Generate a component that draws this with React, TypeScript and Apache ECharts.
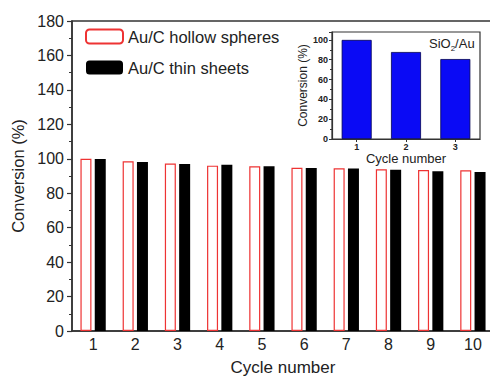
import React, { useEffect, useRef } from "react";
import * as echarts from "echarts";

const cycles = ["1", "2", "3", "4", "5", "6", "7", "8", "9", "10"];
const hollowSpheres = [100, 98.5, 97.2, 96.0, 95.6, 94.8, 94.5, 93.9, 93.5, 93.3];
const thinSheets = [99.8, 98.1, 97.0, 96.6, 95.6, 94.7, 94.4, 93.7, 92.7, 92.3];
const insetCycles = ["1", "2", "3"];
const insetSiO2Au = [100, 87.8, 80.7];
const seriesNames = ["Au/C hollow spheres", "Au/C thin sheets"];

const FONT = "'Liberation Sans', Arial, sans-serif";
const AXIS = "#333";
const TEXT = "#222";

export default function App() {
  const ref = useRef<HTMLDivElement>(null);
  useEffect(() => {
    if (!ref.current) return;
    const chart = echarts.init(ref.current, undefined, { renderer: "svg" });
    chart.setOption({
      animation: false,
      backgroundColor: "#fff",
      textStyle: { fontFamily: FONT },
      title: {
        text: "SiO{s|2}/Au",
        left: 429,
        top: 35,
        padding: 0,
        z: 20,
        textStyle: {
          fontSize: 13,
          fontWeight: "normal",
          color: TEXT,
          fontFamily: FONT,
          rich: {
            s: { fontSize: 8, color: TEXT, fontFamily: FONT, padding: [9, 0, 0, 0] },
          },
        },
      },
      legend: {
        data: seriesNames,
        orient: "vertical",
        left: 80,
        top: 23,
        itemWidth: 37,
        itemHeight: 14,
        itemGap: 14,
        textStyle: { fontSize: 16.5, color: TEXT, fontFamily: FONT },
      },
      grid: [
        {
          left: 72, top: 21, width: 422, bottom: 46,
          outerBoundsMode: "none", containLabel: false,
          show: true, borderColor: AXIS, borderWidth: 1.5,
        },
        {
          left: 332, top: 32, width: 148, height: 107,
          outerBoundsMode: "none", containLabel: false,
          show: true, borderColor: AXIS, borderWidth: 1.2, backgroundColor: "#fff", z: 5,
        },
      ],
      xAxis: [
        {
          type: "category",
          gridIndex: 0,
          data: cycles,
          axisLine: { lineStyle: { color: AXIS, width: 1.5 } },
          axisTick: { show: false },
          axisLabel: { fontSize: 16, color: TEXT, margin: 5, fontFamily: FONT },
          name: "Cycle number",
          nameLocation: "middle",
          nameGap: 28,
          nameTextStyle: { fontSize: 17, color: TEXT, fontFamily: FONT },
        },
        {
          type: "category",
          gridIndex: 1,
          data: insetCycles,
          z: 6,
          axisLine: { lineStyle: { color: AXIS, width: 1.2 } },
          axisTick: { show: true, alignWithLabel: true, length: 3, lineStyle: { color: AXIS } },
          axisLabel: { fontSize: 9, fontWeight: "bold", color: TEXT, margin: 3, fontFamily: FONT },
          name: "Cycle number",
          nameLocation: "middle",
          nameGap: 11,
          nameTextStyle: { fontSize: 13, color: TEXT, fontFamily: FONT },
        },
      ],
      yAxis: [
        {
          type: "value",
          gridIndex: 0,
          min: 0,
          max: 180,
          interval: 20,
          axisLine: { show: true, lineStyle: { color: AXIS, width: 1.5 } },
          axisTick: { show: true, length: 5, lineStyle: { color: AXIS, width: 1.2 } },
          minorTick: { show: true, splitNumber: 2, length: 3, lineStyle: { color: AXIS } },
          splitLine: { show: false },
          axisLabel: { fontSize: 16, color: TEXT, margin: 8, fontFamily: FONT },
          name: "Conversion (%)",
          nameLocation: "middle",
          nameGap: 40,
          nameTextStyle: { fontSize: 16.5, color: TEXT, fontFamily: FONT },
        },
        {
          type: "value",
          gridIndex: 1,
          min: 0,
          max: 108,
          interval: 20,
          z: 6,
          axisLine: { show: true, lineStyle: { color: AXIS, width: 1.2 } },
          axisTick: { show: true, length: 3, lineStyle: { color: AXIS } },
          minorTick: { show: true, splitNumber: 2, length: 2, lineStyle: { color: AXIS } },
          splitLine: { show: false },
          axisLabel: {
            fontSize: 9,
            fontWeight: "bold",
            color: TEXT,
            margin: 4,
            fontFamily: FONT,
            formatter: (v: number) => (v % 20 === 0 ? String(v) : ""),
          },
          name: "Conversion (%)",
          nameLocation: "middle",
          nameGap: 15,
          nameTextStyle: { fontSize: 12, color: TEXT, fontFamily: FONT },
        },
      ],
      series: [
        {
          name: seriesNames[0],
          type: "bar",
          xAxisIndex: 0,
          yAxisIndex: 0,
          data: hollowSpheres,
          barWidth: 11,
          barGap: "30%",
          itemStyle: { color: "#fff", borderColor: "#ee3333", borderWidth: 1.2 },
        },
        {
          name: seriesNames[1],
          type: "bar",
          xAxisIndex: 0,
          yAxisIndex: 0,
          data: thinSheets,
          barWidth: 11,
          barGap: "30%",
          itemStyle: { color: "#000" },
        },
        {
          name: "SiO2/Au",
          type: "bar",
          xAxisIndex: 1,
          yAxisIndex: 1,
          data: insetSiO2Au,
          barWidth: 30,
          z: 7,
          itemStyle: { color: "#0a0af5", borderColor: "#000050", borderWidth: 0.8 },
        },
      ],
    });
    return () => chart.dispose();
  }, []);
  return (
    <div
      ref={ref}
      style={{ position: "fixed", left: 0, top: 0, width: 490, height: 377, background: "#fff" }}
    />
  );
}
